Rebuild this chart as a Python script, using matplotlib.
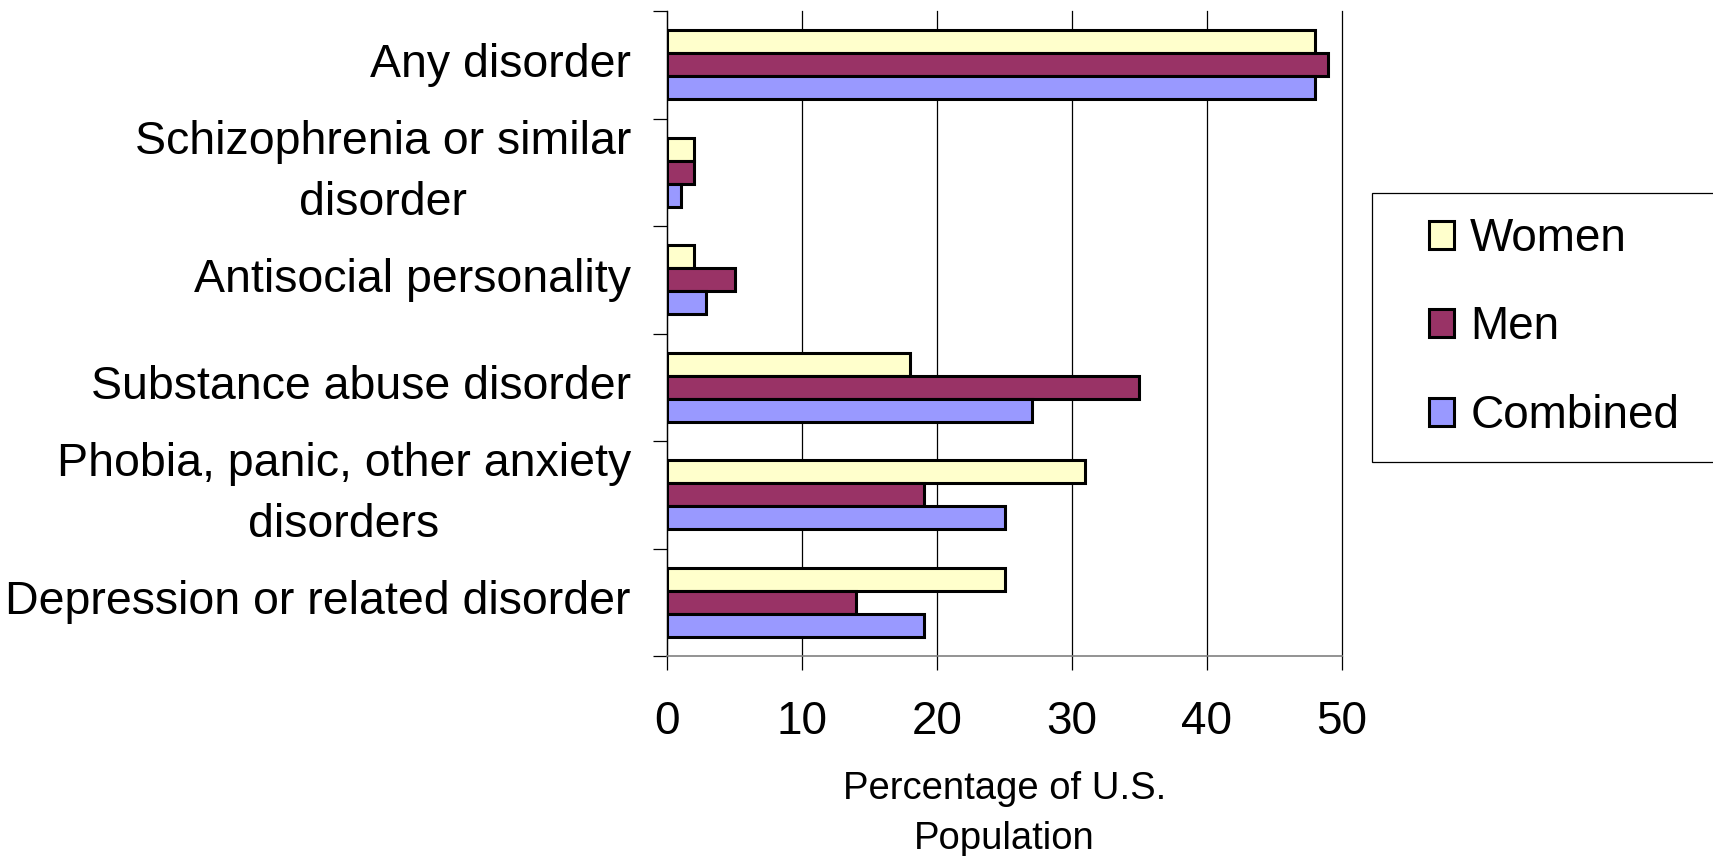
import numpy as np
import matplotlib
matplotlib.use('Agg')
from matplotlib import pyplot as plt
from matplotlib.patches import Rectangle

plt.rcParams['font.family'] = ['Liberation Sans', 'DejaVu Sans']

# data
categories = ['Any disorder', 'Schizophrenia or similar\ndisorder', 'Antisocial personality',
              'Substance abuse disorder', 'Phobia, panic, other anxiety\ndisorders',
              'Depression or related disorder']
women = [48, 2, 2, 18, 31, 25]
men = [49, 2, 5, 35, 19, 14]
combined = [48, 1, 2.9, 27, 25, 19]
series_names = ['Women', 'Men', 'Combined']
colors = ['#FFFFCC', '#993366', '#9999FF']
xticks = [0, 10, 20, 30, 40, 50]

fig = plt.figure(figsize=(17.13, 8.56), dpi=100)
ax = fig.add_axes([0.3894, 0.2336, 0.7834 - 0.3894, 0.9871 - 0.2336])

y = np.arange(len(categories))
h = 0.215
for offset, vals, name, c in zip([-h, 0, h], [women, men, combined], series_names, colors):
    ax.barh(y + offset, vals, height=h, color=c, edgecolor='black', linewidth=2.2,
            label=name, zorder=3)

ax.set_xlim(0, 50)
ax.set_ylim(len(categories) - 0.5, -0.5)

# vertical gridlines
ax.set_xticks(xticks)
ax.xaxis.grid(True, color='black', linewidth=0.9, zorder=0)
for gl in ax.get_xgridlines():
    gl.set_clip_on(False)
ax.tick_params(axis='x', direction='out', length=10, width=0.9, pad=22, labelsize=33)

# y ticks at category boundaries, labels at centers
ax.set_yticks(np.arange(-0.5, len(categories), 1.0))
ax.set_yticklabels([])
ax.set_yticks(y, minor=True)
ax.set_yticklabels(categories, minor=True, fontsize=33.5, linespacing=1.5)
for lab in ax.get_yticklabels(minor=True):
    lab.set_multialignment('center')
    lab.set_verticalalignment('center')
ax.tick_params(axis='y', which='major', direction='out', length=10, width=0.9)
ax.tick_params(axis='y', which='minor', length=0, pad=26)

ax.spines['top'].set_visible(False)
ax.spines['right'].set_visible(False)
ax.spines['bottom'].set_color('#808080')
ax.spines['bottom'].set_linewidth(1.2)
ax.spines['left'].set_linewidth(0.9)

ax.set_xlabel('Percentage of U.S.\nPopulation', fontsize=27.5, linespacing=1.5, labelpad=19)

# legend box runs off the right edge like the original
fig.patches.append(Rectangle((1372 / 1713, 1 - 462 / 856), 0.3, (462 - 193) / 856,
                             transform=fig.transFigure, facecolor='white',
                             edgecolor='black', linewidth=0.9, zorder=1))
leg = fig.legend(loc='upper left', bbox_to_anchor=(1429 / 1713, 1 - 217 / 856),
                 frameon=False, fontsize=33, handlelength=0.55, handleheight=0.55,
                 handletextpad=0.35, labelspacing=0.97, borderaxespad=0, borderpad=0)
leg.set_zorder(2)

plt.savefig('out.png', dpi=100)
